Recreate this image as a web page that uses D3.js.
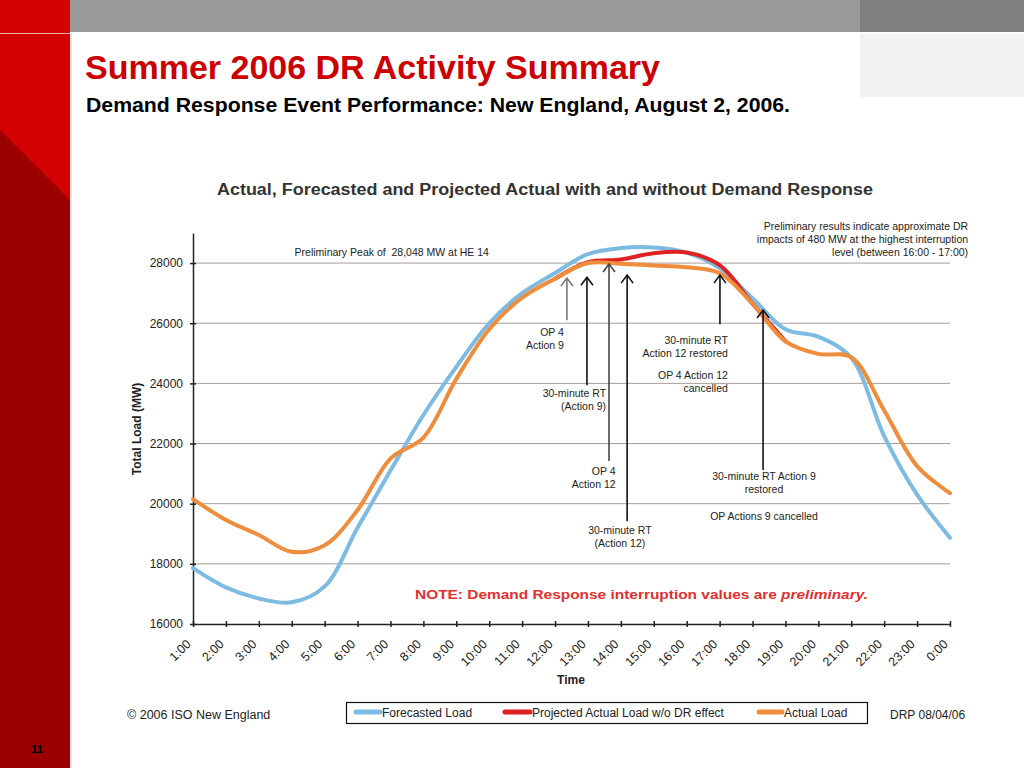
<!DOCTYPE html>
<html>
<head>
<meta charset="utf-8">
<script src="https://cdn.jsdelivr.net/npm/d3@7"></script>
<style>
  body { margin: 0; background: #fff; }
  svg { display: block; font-family: "Liberation Sans", Arial, sans-serif; }
</style>
</head>
<body>
<svg id="slide" width="1024" height="768"></svg>
<script>
// hourly values (MW)
const hours = ['1:00', '2:00', '3:00', '4:00', '5:00', '6:00', '7:00', '8:00', '9:00', '10:00', '11:00', '12:00',
  '13:00', '14:00', '15:00', '16:00', '17:00', '18:00', '19:00', '20:00', '21:00', '22:00', '23:00', '0:00'];
const forecastLoad = [17860, 17220, 16850, 16720, 17250, 19200, 21100, 22950, 24550, 26000, 27000, 27670,
  28300, 28500, 28520, 28350, 27830, 26830, 25800, 25550, 24850, 22250, 20300, 18870];
const actualLoad = [20150, 19460, 18960, 18400, 18620, 19790, 21500, 22200, 24150, 25800, 26850, 27480,
  28000, 27980, 27920, 27860, 27660, 26650, 25400, 24980, 24870, 23100, 21250, 20350];
const projectedHours = ['12:00', '13:00', '14:00', '15:00', '16:00', '17:00', '18:00', '19:00'];
const projectedLoad = [27480, 28030, 28120, 28330, 28350, 27930, 26650, 25400];
const yTicks = [16000, 18000, 20000, 22000, 24000, 26000, 28000];

// event arrows: at = hour index (0 = 1:00), tip / tail in MW
const arrows = [
  { at: 11.36, tip: 27500, tail: 26100, color: '#777' },
  { at: 11.97, tip: 27530, tail: 23940, color: '#111' },
  { at: 12.64, tip: 27970, tail: 21420, color: '#444' },
  { at: 13.19, tip: 27600, tail: 19420, color: '#111' },
  { at: 16.01, tip: 27600, tail: 25970, color: '#111' },
  { at: 17.32, tip: 26440, tail: 21120, color: '#111' },
];

const notes = [
  { at: 6.04, load: 28230, anchor: 'middle', lines: ['Preliminary Peak of \u00a028,048 MW at HE 14'] },
  { at: 23.55, load: 29100, anchor: 'end', lines: ['Preliminary results indicate approximate DR',
    'impacts of 480 MW at the highest interruption', 'level (between 16:00 - 17:00)'] },
  { at: 11.27, load: 25580, anchor: 'end', lines: ['OP 4', 'Action 9'] },
  { at: 12.55, load: 23550, anchor: 'end', lines: ['30-minute RT', '(Action 9)'] },
  { at: 12.84, load: 20950, anchor: 'end', lines: ['OP 4', 'Action 12'] },
  { at: 12.97, load: 18990, anchor: 'middle', lines: ['30-minute RT', '(Action 12)'] },
  { at: 16.25, load: 25300, anchor: 'end', lines: ['30-minute RT', 'Action 12 restored'] },
  { at: 16.25, load: 24130, anchor: 'end', lines: ['OP 4 Action 12', 'cancelled'] },
  { at: 17.35, load: 20800, anchor: 'middle', lines: ['30-minute RT Action 9', 'restored'] },
  { at: 17.35, load: 19450, anchor: 'middle', lines: ['OP Actions 9 cancelled'] },
];

const series = [
  { name: 'Forecasted Load', color: '#7dbbe3' },
  { name: 'Projected Actual Load w/o DR effect', color: '#de2222' },
  { name: 'Actual Load', color: '#f08d3c' },
];

const svg = d3.select('#slide');

// slide frame
svg.append('rect').attr('width', 1024).attr('height', 768).attr('fill', '#fff');
svg.append('rect').attr('x', 70).attr('width', 790).attr('height', 32).attr('fill', '#999');
svg.append('rect').attr('x', 860).attr('width', 164).attr('height', 32).attr('fill', '#808080');
svg.append('rect').attr('x', 860).attr('y', 34).attr('width', 164).attr('height', 63).attr('fill', '#f2f2f2');
svg.append('rect').attr('width', 70).attr('height', 768).attr('fill', '#d20000');
svg.append('path').attr('d', 'M0,130L70,200L70,768L0,768Z').attr('fill', '#9b0000');
svg.append('line').attr('x1', 0).attr('x2', 70).attr('y1', 33.5).attr('y2', 33.5)
  .attr('stroke', '#f3b0b0').attr('stroke-width', 1);
svg.append('line').attr('x1', 71).attr('x2', 71).attr('y1', 33).attr('y2', 768)
  .attr('stroke', '#ecd6d6').attr('stroke-width', 1.5);

svg.append('text').attr('x', 85).attr('y', 79)
  .attr('font-size', 33).attr('font-weight', 'bold').attr('fill', '#cc0000')
  .attr('textLength', 575).attr('lengthAdjust', 'spacingAndGlyphs')
  .text('Summer 2006 DR Activity Summary');
svg.append('text').attr('x', 86).attr('y', 112)
  .attr('font-size', 19.5).attr('font-weight', 'bold').attr('fill', '#000')
  .attr('textLength', 704).attr('lengthAdjust', 'spacingAndGlyphs')
  .text('Demand Response Event Performance: New England, August 2, 2006.');
svg.append('text').attr('x', 37).attr('y', 753).attr('text-anchor', 'middle')
  .attr('font-size', 11).attr('font-weight', 'bold').text('11');

// chart
svg.append('text').attr('x', 217).attr('y', 195)
  .attr('font-size', 16).attr('font-weight', 'bold').attr('fill', '#333')
  .attr('textLength', 656).attr('lengthAdjust', 'spacingAndGlyphs')
  .text('Actual, Forecasted and Projected Actual with and without Demand Response');

const x = d3.scalePoint().domain(hours).range([193, 950]);
const xi = d3.scaleLinear().domain([0, hours.length - 1]).range([193, 950]);
const y = d3.scaleLinear().domain([16000, 29000]).range([624, 233]);

const g = svg.append('g');

g.selectAll('.grid').data(yTicks.filter((d) => d > 16000)).enter()
  .append('line')
  .attr('x1', 193).attr('x2', 950)
  .attr('y1', (d) => y(d)).attr('y2', (d) => y(d))
  .attr('stroke', '#a89c9a').attr('stroke-width', 1);

const yAxis = g.append('g').attr('transform', 'translate(193,0)')
  .call(d3.axisLeft(y).tickValues(yTicks).tickSize(3).tickPadding(7).tickSizeOuter(0).tickFormat(d3.format('d')));
yAxis.selectAll('.tick line').attr('x1', 3).attr('stroke', '#222').attr('stroke-width', 1.5);
yAxis.select('.domain').attr('stroke', '#222').attr('stroke-width', 1.5);
yAxis.selectAll('text').attr('font-size', 12).attr('fill', '#222').attr('font-family', null);

const xAxis = g.append('g').attr('transform', 'translate(0,624)')
  .call(d3.axisBottom(x).tickSize(3).tickSizeOuter(0));
xAxis.selectAll('.tick line').attr('y1', -3).attr('stroke', '#222').attr('stroke-width', 1.5);
xAxis.select('.domain').attr('stroke', '#222').attr('stroke-width', 1.5);
xAxis.selectAll('text')
  .attr('font-size', 12.5).attr('fill', '#222').attr('font-family', null)
  .attr('text-anchor', 'end').attr('x', -16).attr('y', 9).attr('dy', '0.35em')
  .attr('transform', 'rotate(-45)');

svg.append('text').attr('transform', 'translate(141,429) rotate(-90)')
  .attr('text-anchor', 'middle').attr('font-size', 12).attr('font-weight', 'bold').attr('fill', '#222')
  .text('Total Load (MW)');
svg.append('text').attr('x', 571).attr('y', 684).attr('text-anchor', 'middle')
  .attr('font-size', 12).attr('font-weight', 'bold').attr('fill', '#222').text('Time');

// load curves
const line = d3.line()
  .x((d) => x(d[0]))
  .y((d) => y(d[1]))
  .curve(d3.curveCatmullRom.alpha(0.5));

const curves = [
  d3.zip(hours, forecastLoad),
  d3.zip(projectedHours, projectedLoad),
  d3.zip(hours, actualLoad),
];
g.selectAll('.load').data(curves).enter()
  .append('path')
  .attr('d', line)
  .attr('fill', 'none')
  .attr('stroke', (d, i) => series[i].color)
  .attr('stroke-width', 4)
  .attr('stroke-linecap', 'round')
  .attr('stroke-linejoin', 'round');

// event arrows
const arr = g.selectAll('.arrow').data(arrows).enter().append('g');
arr.append('line')
  .attr('x1', (d) => xi(d.at)).attr('x2', (d) => xi(d.at))
  .attr('y1', (d) => y(d.tail)).attr('y2', (d) => y(d.tip))
  .attr('stroke', (d) => d.color).attr('stroke-width', 1.6);
arr.append('path')
  .attr('d', (d) => `M${xi(d.at) - 6},${y(d.tip) + 8}L${xi(d.at)},${y(d.tip)}L${xi(d.at) + 6},${y(d.tip) + 8}`)
  .attr('fill', 'none').attr('stroke', (d) => d.color).attr('stroke-width', 1.6);

const nt = g.selectAll('.note').data(notes).enter()
  .append('text')
  .attr('font-size', 10.5).attr('fill', '#222')
  .attr('text-anchor', (d) => d.anchor);
nt.selectAll('tspan').data((d) => d.lines.map((t, i) => ({ t, i, d }))).enter()
  .append('tspan')
  .attr('x', (e) => xi(e.d.at))
  .attr('y', (e) => y(e.d.load) + e.i * 13)
  .text((e) => e.t);

const note = svg.append('text').attr('x', 415).attr('y', 599)
  .attr('font-size', 13.5).attr('font-weight', 'bold').attr('fill', '#e0302f')
  .attr('textLength', 453).attr('lengthAdjust', 'spacingAndGlyphs');
note.append('tspan').text('NOTE: Demand Response interruption values are ');
note.append('tspan').attr('font-style', 'italic').text('preliminary.');

// legend
svg.append('rect').attr('x', 346.5).attr('y', 702.5).attr('width', 521).attr('height', 21)
  .attr('fill', '#fff').attr('stroke', '#111').attr('stroke-width', 1.2);
const legendX = [[356, 381], [505, 531], [759, 783]];
const lg = svg.selectAll('.lg').data(series).enter().append('g');
lg.append('line')
  .attr('x1', (d, i) => legendX[i][0]).attr('x2', (d, i) => legendX[i][1] - 1)
  .attr('y1', 712).attr('y2', 712)
  .attr('stroke', (d) => d.color).attr('stroke-width', 5).attr('stroke-linecap', 'round');
lg.append('text')
  .attr('x', (d, i) => legendX[i][1] + 1).attr('y', 716.5)
  .attr('font-size', 12).attr('fill', '#222')
  .text((d) => d.name);

svg.append('text').attr('x', 127).attr('y', 718.5).attr('font-size', 12.5).attr('fill', '#222')
  .text('© 2006 ISO New England');
svg.append('text').attr('x', 890).attr('y', 718.5).attr('font-size', 12).attr('fill', '#222')
  .text('DRP 08/04/06');
</script>
</body>
</html>
